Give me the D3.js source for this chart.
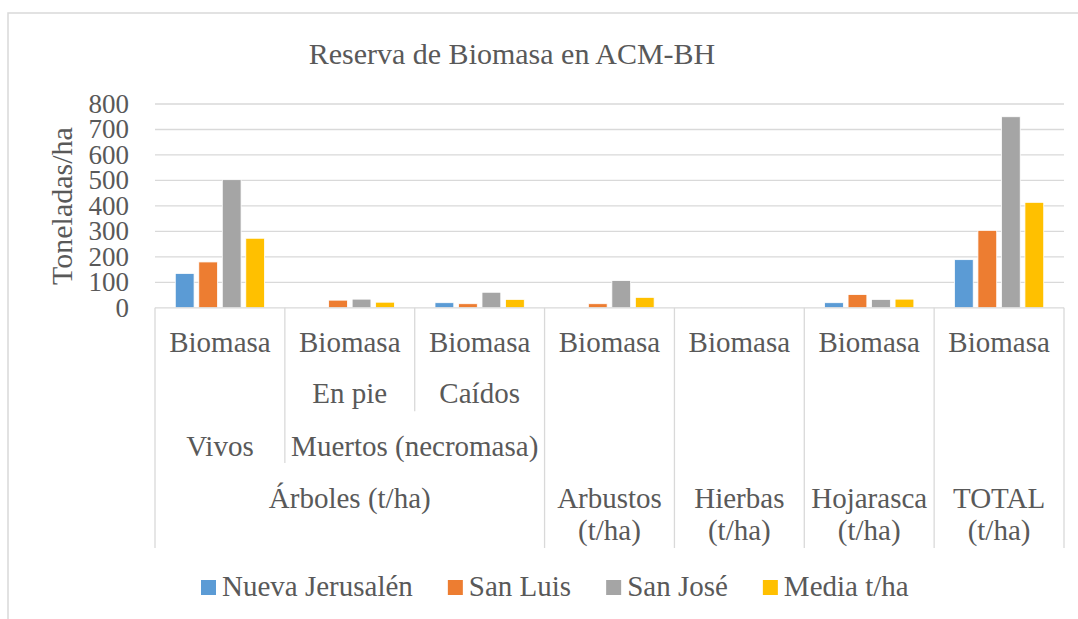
<!DOCTYPE html>
<html>
<head>
<meta charset="utf-8">
<script src="https://cdn.jsdelivr.net/npm/d3@7"></script>
<style>
  body { margin: 0; background: #fff; }
</style>
</head>
<body>
<svg id="chart"></svg>
<script>
// categorías (nivel inferior del eje)
const categories = ["Biomasa", "Biomasa", "Biomasa", "Biomasa", "Biomasa", "Biomasa", "Biomasa"];
const subLabels = ["", "En pie", "Caídos", "", "", "", ""];
// grupos de nivel medio: [etiqueta, desde, hasta]
const midGroups = [["Vivos", 0, 0], ["Muertos (necromasa)", 1, 2]];
// grupos de nivel superior
const topGroups = [
  [["Árboles (t/ha)"], 0, 2],
  [["Arbustos", "(t/ha)"], 3, 3],
  [["Hierbas", "(t/ha)"], 4, 4],
  [["Hojarasca", "(t/ha)"], 5, 5],
  [["TOTAL", "(t/ha)"], 6, 6]
];

// series
const seriesNames = ["Nueva Jerusalén", "San Luis", "San José", "Media t/ha"];
const nuevaJerusalen = [135, 3, 20, 2, 1.5, 20, 189];
const sanLuis = [180, 30, 16, 16, 2, 52, 304];
const sanJose = [503, 34, 61, 107, 1.5, 33, 750];
const media = [273, 22, 33, 41, 1.7, 34, 414];
const yTicks = [0, 100, 200, 300, 400, 500, 600, 700, 800];

const colors = ["#5b9bd5", "#ed7d31", "#a5a5a5", "#ffc000"];
const txt = "#595959";
const lineCol = "#d9d9d9";
const serif = "'Liberation Serif', 'DejaVu Serif', serif";

const allSeries = [nuevaJerusalen, sanLuis, sanJose, media];

const svg = d3.select("#chart")
  .attr("width", 1078).attr("height", 619)
  .attr("font-family", serif)
  .style("display", "block");

// marco del gráfico
svg.append("rect")
  .attr("x", 8).attr("y", 13)
  .attr("width", 1100).attr("height", 640)
  .attr("fill", "#fff")
  .attr("stroke", lineCol)
  .attr("stroke-width", 1.5);

// escalas
const x = d3.scaleBand().domain(d3.range(categories.length)).range([155, 1064]);
const half = 47;
const xs = d3.scaleBand().domain(d3.range(seriesNames.length))
  .range([x.bandwidth() / 2 - half, x.bandwidth() / 2 + half])
  .paddingInner(0.2).paddingOuter(0.1);
const y = d3.scaleLinear().domain([0, 800]).range([307.8, 104]);

// título
svg.append("text")
  .attr("x", 512).attr("y", 64)
  .attr("text-anchor", "middle")
  .attr("font-family", serif)
  .attr("font-size", 30)
  .attr("fill", txt)
  .text("Reserva de Biomasa en ACM-BH");

// líneas de cuadrícula
svg.append("g").selectAll("line")
  .data(yTicks.filter(d => d > 0))
  .join("line")
  .attr("x1", 155).attr("x2", 1064)
  .attr("y1", d => y(d)).attr("y2", d => y(d))
  .attr("stroke", lineCol).attr("stroke-width", 1.3);

// etiquetas eje Y
svg.append("g").selectAll("text")
  .data(yTicks)
  .join("text")
  .attr("x", 129)
  .attr("y", d => y(d))
  .attr("dy", "0.33em")
  .attr("text-anchor", "end")
  .attr("font-family", serif)
  .attr("font-size", 27)
  .attr("fill", txt)
  .text(d => d);

// título eje Y
svg.append("text")
  .attr("transform", "translate(72,206) rotate(-90)")
  .attr("text-anchor", "middle")
  .attr("font-family", serif)
  .attr("font-size", 30)
  .attr("fill", txt)
  .text("Toneladas/ha");

// barras
const groups = svg.append("g").selectAll("g")
  .data(categories.map((c, i) => i))
  .join("g")
  .attr("transform", i => `translate(${x(i)},0)`);

groups.selectAll("rect")
  .data(i => allSeries.map((s, k) => ({ k, v: s[i] })))
  .join("rect")
  .attr("x", d => xs(d.k))
  .attr("width", xs.bandwidth())
  .attr("y", d => y(d.v))
  .attr("height", d => y(0) - y(d.v))
  .attr("fill", d => colors[d.k])
  .attr("stroke", "#fff")
  .attr("stroke-width", 0.8);

// eje X
svg.append("line")
  .attr("x1", 155).attr("x2", 1064)
  .attr("y1", y(0)).attr("y2", y(0))
  .attr("stroke", lineCol).attr("stroke-width", 1.3);

// separadores verticales del eje de categorías
const rowTop = y(0);
const rowH = 51.7;
const axisBottom = 548;
const topOf = i => topGroups.findIndex(g => i >= g[1] && i <= g[2]);
const midOf = i => midGroups.findIndex(g => i >= g[1] && i <= g[2]);
const bounds = d3.range(categories.length + 1);
svg.append("g").selectAll("line")
  .data(bounds)
  .join("line")
  .attr("x1", b => b < categories.length ? x(b) : x(b - 1) + x.bandwidth())
  .attr("x2", b => b < categories.length ? x(b) : x(b - 1) + x.bandwidth())
  .attr("y1", rowTop)
  .attr("y2", b => {
    if (b === 0 || b === categories.length) return axisBottom;
    if (topOf(b) !== topOf(b - 1)) return axisBottom;
    if (midOf(b) !== midOf(b - 1)) return rowTop + rowH * 3;
    return rowTop + rowH * 2;
  })
  .attr("stroke", lineCol).attr("stroke-width", 1.3);

const baseline = [351.7, 403.3, 455.7, 507.5];
const lab = svg.append("g")
  .attr("font-family", serif)
  .attr("font-size", 29)
  .attr("fill", txt)
  .attr("text-anchor", "middle");

const cx = (a, b) => (x(a) + x(b) + x.bandwidth()) / 2;

lab.selectAll(".l0").data(categories).join("text")
  .attr("class", "l0")
  .attr("x", (d, i) => cx(i, i)).attr("y", baseline[0])
  .text(d => d);

lab.selectAll(".l1").data(subLabels).join("text")
  .attr("class", "l1")
  .attr("x", (d, i) => cx(i, i)).attr("y", baseline[1])
  .text(d => d);

lab.selectAll(".l2").data(midGroups).join("text")
  .attr("class", "l2")
  .attr("x", d => cx(d[1], d[2])).attr("y", baseline[2])
  .text(d => d[0]);

lab.selectAll(".l3").data(topGroups).join("text")
  .attr("class", "l3")
  .attr("x", d => cx(d[1], d[2])).attr("y", baseline[3])
  .each(function (d) {
    d3.select(this).selectAll("tspan").data(d[0]).join("tspan")
      .attr("x", cx(d[1], d[2]))
      .attr("dy", (t, j) => j === 0 ? 0 : 32)
      .text(t => t);
  });

// leyenda
const legend = svg.append("g")
  .attr("font-family", serif)
  .attr("font-size", 29).attr("fill", txt);
let lx = 201;
seriesNames.forEach((name, k) => {
  legend.append("rect")
    .attr("x", lx).attr("y", 580)
    .attr("width", 15).attr("height", 15)
    .attr("fill", colors[k]);
  const t = legend.append("text")
    .attr("x", lx + 21).attr("y", 596)
    .text(name);
  lx += 21 + t.node().getComputedTextLength() + 35;
});
</script>
</body>
</html>
